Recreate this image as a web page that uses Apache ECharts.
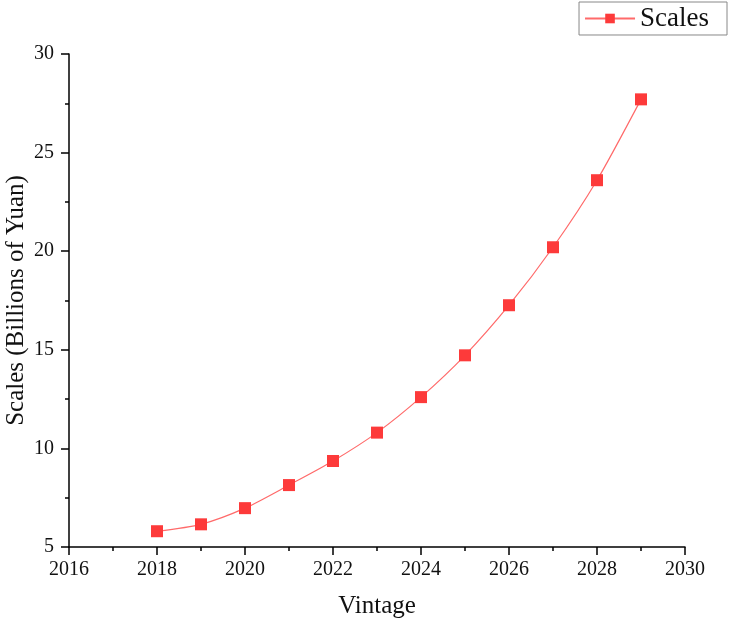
<!DOCTYPE html>
<html>
<head>
<meta charset="utf-8">
<script src="https://cdn.jsdelivr.net/npm/echarts@6/dist/echarts.min.js"></script>
<style>
  html, body { margin: 0; padding: 0; background: #fff; }
  #chart { width: 729px; height: 620px; }
</style>
</head>
<body>
<div id="chart"></div>
<script>
// ===== data =====
const years = [2018, 2019, 2020, 2021, 2022, 2023, 2024, 2025, 2026, 2027, 2028, 2029];
const scales = [5.8, 6.15, 6.97, 8.14, 9.36, 10.8, 12.6, 14.72, 17.26, 20.2, 23.6, 27.7];

const FONT = '"Liberation Serif", "Noto Sans CJK SC", serif';

const chart = echarts.init(document.getElementById('chart'));

const option = {
    animation: false,
    backgroundColor: '#fff',
    grid: { left: 69, right: 44, top: 54, bottom: 73, containLabel: false, outerBoundsMode: 'none' },
    legend: {
        data: ['Scales'],
        right: 2,
        top: 2,
        borderColor: '#888',
        borderWidth: 1,
        borderRadius: 0,
        padding: [3, 18, 3, 5],
        itemWidth: 50,
        itemHeight: 12,
        itemGap: 6,
        textStyle: { fontFamily: FONT, fontSize: 27, color: '#111' },
    },
    xAxis: {
        type: 'value',
        min: 2016,
        max: 2030,
        interval: 2,
        name: 'Vintage',
        nameLocation: 'middle',
        nameGap: 47,
        nameMoveOverlap: false,
        nameTextStyle: { fontFamily: FONT, fontSize: 25, color: '#111' },
        axisLine: { lineStyle: { color: '#000', width: 1.5 } },
        axisTick: { inside: false, length: 8, lineStyle: { color: '#000', width: 1.5 } },
        minorTick: { show: true, splitNumber: 2, length: 4, lineStyle: { color: '#000', width: 1.5 } },
        axisLabel: { margin: 13, fontFamily: FONT, fontSize: 20, color: '#111', formatter: v => String(v) },
        splitLine: { show: false },
    },
    yAxis: {
        type: 'value',
        min: 5,
        max: 30,
        interval: 5,
        name: 'Scales (Billions of Yuan)',
        nameLocation: 'middle',
        nameGap: 40,
        nameMoveOverlap: false,
        nameTextStyle: { fontFamily: FONT, fontSize: 25, color: '#111' },
        axisLine: { show: true, lineStyle: { color: '#000', width: 1.5 } },
        axisTick: { show: true, inside: false, length: 8, lineStyle: { color: '#000', width: 1.5 } },
        minorTick: { show: true, splitNumber: 2, length: 4, lineStyle: { color: '#000', width: 1.5 } },
        axisLabel: { margin: 15, fontFamily: FONT, fontSize: 20, color: '#111' },
        splitLine: { show: false },
    },
    series: [{
        name: 'Scales',
        type: 'line',
        data: years.map((y, i) => [y, scales[i]]),
        smooth: 0.25,
        symbol: 'rect',
        symbolSize: 12,
        itemStyle: { color: '#fd3a3a' },
        lineStyle: { color: '#ff6a6a', width: 1.2 },
    }],
};

chart.setOption(option);
</script>
</body>
</html>
